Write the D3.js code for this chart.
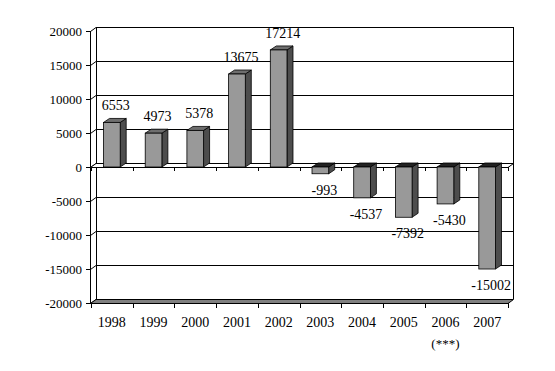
<!DOCTYPE html>
<html>
<head>
<meta charset="utf-8">
<script src="https://cdn.jsdelivr.net/npm/d3@7"></script>
<style>
  body { margin: 0; background: #fff; }
  text { font-family: "Liberation Serif", "Times New Roman", serif; fill: #000; }
</style>
</head>
<body>
<div id="chart"></div>
<script>
// data
const years = ["1998", "1999", "2000", "2001", "2002", "2003", "2004", "2005", "2006", "2007"];
const values = [6553, 4973, 5378, 13675, 17214, -993, -4537, -7392, -5430, -15002];
const yTicks = [20000, 15000, 10000, 5000, 0, -5000, -10000, -15000, -20000];
const yearNotes = ["", "", "", "", "", "", "", "", "(***)", ""];

const W = 555, H = 371;
const depth = {x: 5, y: 4};      // wall depth (3D offset)
const barDepth = {x: 6, y: 4};

const svg = d3.select("#chart")
    .append("svg")
    .attr("width", W)
    .attr("height", H);

svg.append("rect").attr("width", W).attr("height", H).attr("fill", "#fff");

const xScale = d3.scaleBand()
    .domain(years)
    .range([91, 508])
    .padding(0);
const yScale = d3.scaleLinear()
    .domain([-20000, 20000])
    .range([303, 31]);

const x0 = xScale.range()[0], x1 = xScale.range()[1];
const yTop = yScale(20000), yBot = yScale(-20000), yZero = yScale(0);

// back wall gridlines
svg.append("g")
   .selectAll("line")
   .data(yTicks)
   .join("line")
   .attr("x1", x0 + depth.x)
   .attr("x2", x1 + depth.x)
   .attr("y1", d => yScale(d) - depth.y + 0.5)
   .attr("y2", d => yScale(d) - depth.y + 0.5)
   .attr("stroke", "#000")
   .attr("stroke-width", 1);

// left wall diagonals
svg.append("g")
   .selectAll("line")
   .data(yTicks)
   .join("line")
   .attr("x1", x0 - 0.5)
   .attr("x2", x0 + depth.x)
   .attr("y1", d => yScale(d) + 0.5)
   .attr("y2", d => yScale(d) - depth.y + 0.5)
   .attr("stroke", "#000")
   .attr("stroke-width", 1);

// wall edges
const edges = svg.append("g").attr("stroke", "#000").attr("stroke-width", 1);
edges.append("line") // back left
     .attr("x1", x0 + depth.x + 0.5).attr("x2", x0 + depth.x + 0.5)
     .attr("y1", yTop - depth.y).attr("y2", yBot - depth.y);
edges.append("line") // back right
     .attr("x1", x1 + depth.x + 0.5).attr("x2", x1 + depth.x + 0.5)
     .attr("y1", yTop - depth.y).attr("y2", yBot - depth.y);

// bottom floor (grey slab)
svg.append("polygon")
   .attr("points", [
       [x0 - 0.5, yBot + 0.5], [x0 + depth.x, yBot - depth.y + 0.5],
       [x1 + depth.x + 0.5, yBot - depth.y + 0.5], [x1, yBot + 0.5]
   ].join(" "))
   .attr("fill", "#808080")
   .attr("stroke", "#000")
   .attr("stroke-width", 1);

// zero plane
svg.append("polygon")
   .attr("points", [
       [x0 - 0.5, yZero + 0.5], [x0 + depth.x, yZero - depth.y + 0.5],
       [x1 + depth.x + 0.5, yZero - depth.y + 0.5], [x1, yZero + 0.5]
   ].join(" "))
   .attr("fill", "#fff")
   .attr("stroke", "#000")
   .attr("stroke-width", 1);

// zero axis ticks (category boundaries)
const bounds = years.map(d => xScale(d)).concat([x1]);
svg.append("g")
   .selectAll("line")
   .data(bounds)
   .join("line")
   .attr("x1", d => Math.round(d) + 0.5)
   .attr("x2", d => Math.round(d) + 0.5)
   .attr("y1", yZero)
   .attr("y2", yZero + 4)
   .attr("stroke", "#000");

// bars
const bw = xScale.bandwidth() * 0.4;
const bars = svg.append("g")
    .selectAll("g")
    .data(years.map((y, i) => ({year: y, value: values[i]})))
    .join("g");

function barGeom(d) {
    const cx = xScale(d.year) + xScale.bandwidth() / 2;
    const l = cx - bw / 2, r = cx + bw / 2;
    const t = d.value >= 0 ? yScale(d.value) : yZero;
    const b = d.value >= 0 ? yZero : yScale(d.value);
    return {l, r, t, b};
}

bars.append("polygon") // side
    .attr("points", d => {
        const g = barGeom(d);
        return [[g.r, g.t], [g.r + barDepth.x, g.t - barDepth.y],
                [g.r + barDepth.x, g.b - barDepth.y], [g.r, g.b]].join(" ");
    })
    .attr("fill", "#4d4d4d")
    .attr("stroke", "#000")
    .attr("stroke-width", 0.8);
bars.append("polygon") // top
    .attr("points", d => {
        const g = barGeom(d);
        return [[g.l, g.t], [g.l + barDepth.x, g.t - barDepth.y],
                [g.r + barDepth.x, g.t - barDepth.y], [g.r, g.t]].join(" ");
    })
    .attr("fill", d => d.value >= 0 ? "#6e6e6e" : "#222")
    .attr("stroke", "#000")
    .attr("stroke-width", 0.8);
bars.append("rect") // front
    .attr("x", d => barGeom(d).l)
    .attr("y", d => barGeom(d).t)
    .attr("width", bw)
    .attr("height", d => barGeom(d).b - barGeom(d).t)
    .attr("fill", "#999999")
    .attr("stroke", "#000")
    .attr("stroke-width", 0.8);

// value labels
bars.append("text")
    .attr("x", d => xScale(d.year) + xScale.bandwidth() / 2 + 4)
    .attr("y", d => d.value >= 0 ? barGeom(d).t - barDepth.y - 8 : barGeom(d).b + 21)
    .attr("text-anchor", "middle")
    .attr("font-size", 14)
    .text(d => d.value);

// y axis (front)
const yAxis = svg.append("g");
yAxis.append("line")
     .attr("x1", x0 - 0.5).attr("x2", x0 - 0.5)
     .attr("y1", yTop).attr("y2", yBot + 1)
     .attr("stroke", "#000");
yAxis.selectAll("line.tick")
     .data(yTicks)
     .join("line")
     .attr("class", "tick")
     .attr("x1", x0 - 5).attr("x2", x0)
     .attr("y1", d => yScale(d) + 0.5).attr("y2", d => yScale(d) + 0.5)
     .attr("stroke", "#000");
yAxis.selectAll("text")
     .data(yTicks)
     .join("text")
     .attr("x", x0 - 9)
     .attr("y", d => yScale(d))
     .attr("dy", "0.35em")
     .attr("text-anchor", "end")
     .attr("font-size", 13)
     .text(d => d);

// x axis (bottom)
const xAxis = svg.append("g");
xAxis.selectAll("line")
     .data(bounds)
     .join("line")
     .attr("x1", d => Math.round(d) + 0.5)
     .attr("x2", d => Math.round(d) + 0.5)
     .attr("y1", yBot)
     .attr("y2", yBot + 5)
     .attr("stroke", "#000");
xAxis.selectAll("text.year")
     .data(years)
     .join("text")
     .attr("class", "year")
     .attr("x", d => xScale(d) + xScale.bandwidth() / 2)
     .attr("y", yBot + 24)
     .attr("text-anchor", "middle")
     .attr("font-size", 14)
     .text(d => d);
xAxis.selectAll("text.note")
     .data(years)
     .join("text")
     .attr("class", "note")
     .attr("x", d => xScale(d) + xScale.bandwidth() / 2)
     .attr("y", yBot + 45)
     .attr("text-anchor", "middle")
     .attr("font-size", 13)
     .text((d, i) => yearNotes[i]);
</script>
</body>
</html>
